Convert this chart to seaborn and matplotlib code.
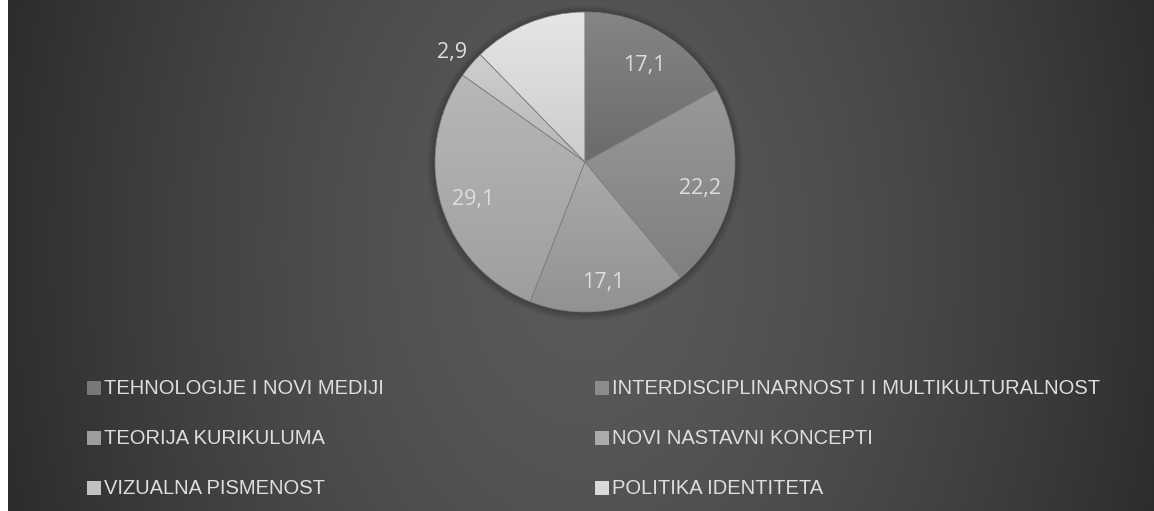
import numpy as np
import matplotlib
matplotlib.use("Agg")
import matplotlib.pyplot as plt
import seaborn as sns
from matplotlib.patches import Rectangle, Circle
from matplotlib.legend_handler import HandlerPatch

sns.set_theme(style="white")
plt.rcParams['font.family'] = ['Liberation Sans Narrow', 'Liberation Sans', 'DejaVu Sans']

categories = ["TEHNOLOGIJE I NOVI MEDIJI",
              "INTERDISCIPLINARNOST I I MULTIKULTURALNOST",
              "TEORIJA KURIKULUMA",
              "NOVI NASTAVNI KONCEPTI",
              "VIZUALNA PISMENOST",
              "POLITIKA IDENTITETA"]
values = [17.1, 22.2, 17.1, 29.1, 2.9, 12.4]
value_labels = ["17,1", "22,2", "17,1", "29,1", "2,9", "12,4"]

base_colors = np.array([0x78, 0x8c, 0x9e, 0xab, 0xc2, 0xd9]) / 255.0
text_color = "#dedede"

W, H = 1154, 511
fig = plt.figure(figsize=(W / 100, H / 100), dpi=100)
fig.patch.set_facecolor("white")

# background radial gradient
bg = fig.add_axes([8 / W, 0, (W - 8) / W, 1])
bg.set_axis_off()
yy, xx = np.mgrid[0:H, 8:W]
r = np.sqrt(((xx - 585) / 620.0) ** 2 + ((yy - 250) / 900.0) ** 2)
t = np.clip(r, 0, 1.15) ** 1.5
lum = (0x5a - t * 0x30) / 255.0
img = np.dstack([lum, lum, lum])
bg.imshow(img, aspect="auto", extent=[0, 1, 0, 1], origin="upper")
bg.set_xlim(0, 1)
bg.set_ylim(0, 1)

# pie axes
cx, cy, R = 585, 162, 150
ax = fig.add_axes([(cx - R) / W, (H - cy - R) / H, 2 * R / W, 2 * R / H])
ax.set_axis_off()

# soft shadow
for k in range(5):
    ax.add_patch(Circle((0.0, -0.008), 1.0 + 0.01 * (k + 1), color="black",
                        alpha=0.045, zorder=0, lw=0, clip_on=False))

wedges, _ = ax.pie(values, startangle=90, counterclock=False,
                   colors=[(c, c, c) for c in base_colors],
                   wedgeprops=dict(edgecolor="#808080", linewidth=0.5))
ax.set_xlim(-1, 1)
ax.set_ylim(-1, 1)
ax.set_aspect("equal")

# vertical gradient inside each wedge
for w, c in zip(wedges, base_colors):
    verts = w.get_path().vertices
    y0, y1 = verts[:, 1].min(), verts[:, 1].max()
    x0, x1 = verts[:, 0].min(), verts[:, 0].max()
    g = np.linspace(c + 0.05, c - 0.05, 64).clip(0, 1)[:, None]
    grad = np.dstack([g, g, g])
    im = ax.imshow(grad, extent=[x0, x1, y0, y1], aspect="auto",
                   origin="upper", zorder=1.5)
    im.set_clip_path(w)
    w.set_zorder(2)
    w.set_facecolor("none")

# data labels
total = sum(values)
cum = 0.0
for v, lab in zip(values, value_labels):
    mid = cum + v / 2
    cum += v
    ang = np.deg2rad(90 - 360 * mid / total)
    dist = 1.17 if v < 5 else 0.78
    ax.text(dist * np.cos(ang), dist * np.sin(ang) - 0.03, lab, ha="center",
            va="center", fontsize=15.5, color=text_color, zorder=5,
            family=['Open Sans', 'DejaVu Sans'])

# legends (two columns)
handles = [Rectangle((0, 0), 1, 1, facecolor=(c, c, c), edgecolor="none")
           for c in base_colors]


class SquareHandler(HandlerPatch):
    def create_artists(self, legend, orig_handle, xdescent, ydescent,
                       width, height, fontsize, trans):
        s = height * 0.95
        p = Rectangle((xdescent + width - s, ydescent + (height - s) / 2 - 1),
                      s, s, facecolor=orig_handle.get_facecolor(),
                      edgecolor="none", transform=trans)
        return [p]


for col, xpos in enumerate([86, 594]):
    idx = [col, col + 2, col + 4]
    leg = fig.legend([handles[i] for i in idx], [categories[i] for i in idx],
                     loc="upper left",
                     bbox_to_anchor=(xpos / W, (H - 379) / H),
                     frameon=False, fontsize=14.5, labelcolor=text_color,
                     handlelength=0.75, handleheight=0.75, handletextpad=0.15,
                     labelspacing=1.55, borderaxespad=0, borderpad=0,
                     handler_map={Rectangle: SquareHandler()})

fig.savefig("out.png", dpi=100, facecolor=fig.get_facecolor())
